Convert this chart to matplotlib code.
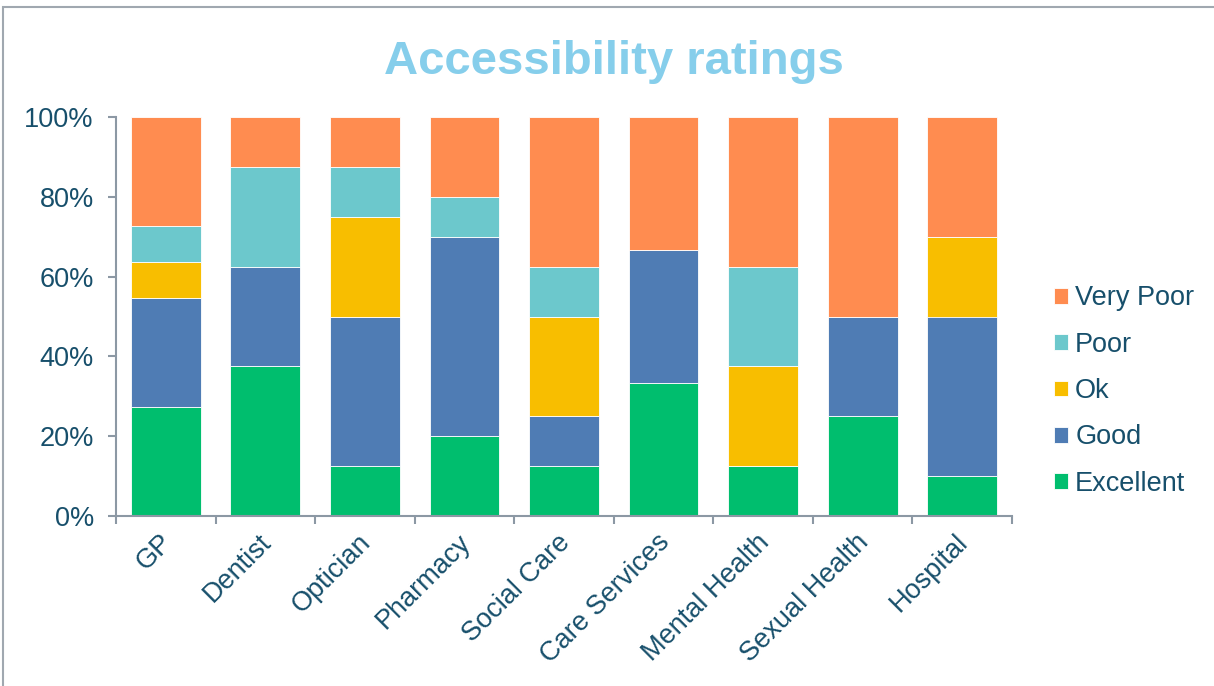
import numpy as np
import matplotlib
matplotlib.use("Agg")
from matplotlib import pyplot as plt
from matplotlib.patches import Rectangle

plt.rcParams['font.family'] = ['Liberation Sans', 'DejaVu Sans']

services = ['GP', 'Dentist', 'Optician', 'Pharmacy', 'Social Care',
            'Care Services', 'Mental Health', 'Sexual Health', 'Hospital']

# share of answers per service, in percent
excellent = [27.3, 37.5, 12.5, 20.0, 12.5, 33.3, 12.5, 25.0, 10.0]
good = [27.3, 25.0, 37.5, 50.0, 12.5, 33.3, 0.0, 25.0, 40.0]
ok = [9.1, 0.0, 25.0, 0.0, 25.0, 0.0, 25.0, 0.0, 20.0]
poor = [9.1, 25.0, 12.5, 10.0, 12.5, 0.0, 25.0, 0.0, 0.0]
very_poor = [27.3, 12.5, 12.5, 20.0, 37.5, 33.4, 37.5, 50.0, 30.0]

series = [('Excellent', excellent, '#00BE6E'),
          ('Good', good, '#4F7CB4'),
          ('Ok', ok, '#F8BE00'),
          ('Poor', poor, '#6CC8CC'),
          ('Very Poor', very_poor, '#FF8C50')]

text_col = '#174F6B'
axis_col = '#8C98A4'
fs = 19.5

fig = plt.figure(figsize=(12.14, 6.86), dpi=100)
ax = fig.add_axes([116 / 1214, 1 - 516 / 686, 896 / 1214, 399 / 686])

x = np.arange(len(services))
bottom = np.zeros(len(services))
handles = []
for name, vals, col in series:
    vals = np.array(vals)
    b = ax.bar(x, vals, 0.7, bottom=bottom, color=col, edgecolor='white',
               linewidth=0.6, label=name)
    handles.append(b)
    bottom += vals

ax.set_xlim(-0.5, len(services) - 0.5)
ax.set_ylim(0, 100)
ax.set_yticks(np.arange(0, 101, 20))
ax.set_yticklabels([f'{v}%' for v in range(0, 101, 20)])
ax.set_xticks(np.append(x - 0.5, len(services) - 0.5))
ax.set_xticklabels([])
for i, s in enumerate(services):
    ax.text(i - 0.07, -3.3, s, rotation=45, rotation_mode='anchor',
            ha='right', va='top', fontsize=fs, color=text_col)

for side in ['top', 'right']:
    ax.spines[side].set_visible(False)
for side in ['left', 'bottom']:
    ax.spines[side].set_color(axis_col)
    ax.spines[side].set_linewidth(1.5)
ax.tick_params(axis='y', colors=axis_col, labelcolor=text_col, labelsize=fs,
               length=6, width=1.5, pad=10)
ax.tick_params(axis='x', colors=axis_col, length=6, width=1.5)

leg = fig.legend(handles[::-1], [s[0] for s in series][::-1],
                 loc='center left', bbox_to_anchor=(1030 / 1214, 1 - 391 / 686),
                 frameon=False, fontsize=fs, handlelength=0.52, handleheight=0.52,
                 handletextpad=0.25, labelspacing=0.75, labelcolor=text_col)

fig.text(614 / 1214, 1 - 74 / 686, 'Accessibility ratings', ha='center',
         va='baseline', fontsize=34, fontweight='bold', color='#86CEEB')

# outer chart border
fig.patches.append(Rectangle((3 / 1214, -0.01), 1.02, 1 - 7 / 686 + 0.01,
                             transform=fig.transFigure, fill=False,
                             edgecolor='#A0A8B0', linewidth=1.5))

fig.savefig('out.png', dpi=100)
